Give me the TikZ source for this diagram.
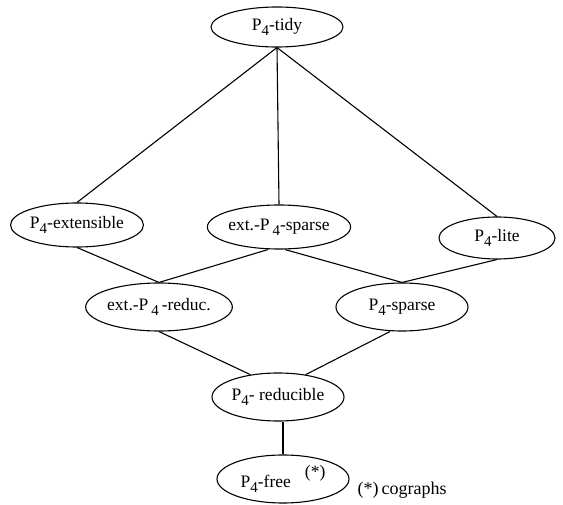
\documentclass[tikz,border=0pt]{standalone}
\usepackage{fontspec}
\setmainfont{Liberation Serif}
\usepackage{tikz}
\usetikzlibrary{shapes.geometric}

\newcommand{\Pfour}{P\raisebox{-0.6ex}{\fontsize{15}{15}\selectfont 4}}

\begin{document}
\begin{tikzpicture}[x=1pt, y=-1pt, line width=1.1pt,
    cls/.style={ellipse, draw, inner sep=0pt, minimum width=132pt, minimum height=44pt,
      font=\fontsize{17.5}{20}\selectfont}]
        \useasboundingbox (0,0) rectangle (563,505);

        % Classes
        \node[cls, minimum height=40pt] (tidy) at (277,27) {\Pfour-tidy};
        \node[cls] (ext) at (77,225) {\Pfour-extensible};
        \node[cls] (esp) at (279,227) {ext.-P\,\raisebox{-0.6ex}{\fontsize{15}{15}\selectfont 4}-sparse};
        \node[cls, minimum width=116pt, minimum height=42pt] (lite) at (497,238) {\Pfour-lite};
        \node[cls, minimum height=48pt] (ered) at (159,307) {ext.-P\,\raisebox{-0.6ex}{\fontsize{15}{15}\selectfont 4}\,-reduc.};
        \node[cls, minimum height=48pt] (spa) at (402,307) {\Pfour-sparse};
        \node[cls, minimum height=48pt] (red) at (278,397) {\Pfour- reducible};
        \node[cls, minimum height=48pt] (free) at (283,479) {\Pfour-free\hspace{14pt}\raisebox{1.3ex}{(*)}};
        \node[anchor=base west, inner sep=0pt, font=\fontsize{18}{20}\selectfont] (cog) at (357,494) {(*)\,cographs};

        % Inclusions
        \draw (tidy.south) -- (ext.north);
        \draw (tidy.south) -- (esp.north);
        \draw (tidy.south) -- (lite.north);
        \draw (ext.south) -- (ered.north);
        \draw ([xshift=-11pt]esp.south) -- (ered.north);
        \draw ([xshift=6pt]esp.south) -- (spa.north);
        \draw (lite.south) -- (spa.north);
        \draw (ered.south) -- (red.141);
        \draw ([xshift=-12pt]spa.south) -- (red.39);
        \draw (red.south -| free.north) -- (free.north);
    \end{tikzpicture}
\end{document}
